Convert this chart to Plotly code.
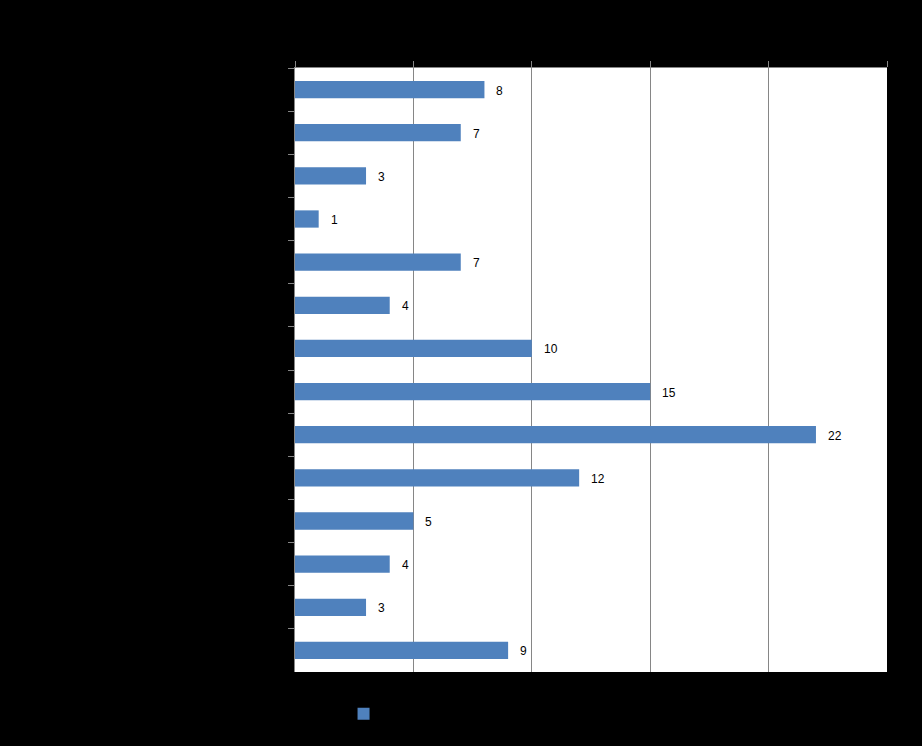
import plotly.graph_objects as go

categories = ["Category 1", "Category 2", "Category 3", "Category 4", "Category 5",
              "Category 6", "Category 7", "Category 8", "Category 9", "Category 10",
              "Category 11", "Category 12", "Category 13", "Category 14"]
values = [8, 7, 3, 1, 7, 4, 10, 15, 22, 12, 5, 4, 3, 9]
x_ticks = [0, 5, 10, 15, 20, 25]
series_name = "Series1"

bar_color = "#4F81BD"
axis_gray = "#868686"

fig = go.Figure()
fig.add_trace(go.Bar(
    x=values, y=categories, orientation="h",
    marker=dict(color=bar_color, line=dict(width=0)),
    name=series_name, showlegend=True,
))

for c, v in zip(categories, values):
    fig.add_annotation(x=v, y=c, text=str(v), showarrow=False,
                       xanchor="left", xshift=10, yshift=-1,
                       font=dict(family="Liberation Sans, Arial", size=12, color="black"))

fig.update_layout(
    width=922, height=746,
    paper_bgcolor="black", plot_bgcolor="white",
    margin=dict(l=295, r=35, t=68, b=74),
    bargap=0.6,
    font=dict(family="Liberation Sans, Arial", size=12, color="black"),
    legend=dict(orientation="h", x=0.082, y=-0.045, xanchor="left", yanchor="top",
                font=dict(color="black", size=12), bgcolor="rgba(0,0,0,0)"),
)
fig.update_xaxes(
    side="top", range=[0, 25], tickvals=x_ticks,
    showgrid=True, gridcolor=axis_gray, gridwidth=1,
    showline=True, linecolor=axis_gray, linewidth=1,
    ticks="outside", ticklen=6, tickcolor=axis_gray,
    tickfont=dict(color="black"), zeroline=False, mirror=False,
)
fig.update_yaxes(
    autorange="reversed", type="category",
    showline=True, linecolor=axis_gray, linewidth=1,
    ticks="outside", ticklen=6, tickcolor=axis_gray, tickson="boundaries",
    tickfont=dict(color="black"), showgrid=False,
)

fig.write_html("out.html")
